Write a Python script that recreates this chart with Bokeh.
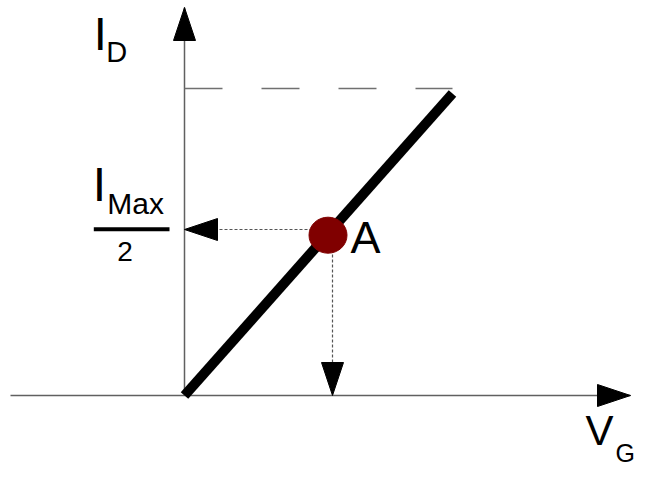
from bokeh.plotting import figure
from bokeh.models import Range1d, Label
from bokeh.embed import file_html
from bokeh.resources import INLINE

# ---- diagram data (V_G horizontal, I_D vertical; origin at threshold) ----
vg_axis = [-174, 446]          # horizontal axis extent (tip at 446)
id_axis = [0, 388]             # vertical axis extent (tip at 388)
vg_line = [0, 268]             # transfer characteristic
id_line = [0, 302]
id_max = 307                   # I_Max level (dashed)
vg_max = 268
a_vg, a_id = 143.5, 160.3      # operating point A
guide_vg = 148                 # projection of A on V_G
guide_id = 166                 # I_Max / 2 level

HEAD_LEN, HEAD_HALF = 33, 11
AXIS_COLOR = "#606060"
FONT = "Liberation Sans"

p = figure(width=635, height=471,
           x_range=Range1d(-184, 451), y_range=Range1d(-76, 395),
           x_axis_type=None, y_axis_type=None,
           output_backend="svg", toolbar_location=None, min_border=0)
p.grid.visible = False
p.outline_line_color = None
p.background_fill_color = "white"
p.border_fill_color = "white"


def head(tx, ty, dx, dy):
    # triangle with tip at (tx,ty) pointing in direction (dx,dy)
    bx, by = tx - dx * HEAD_LEN, ty - dy * HEAD_LEN
    px, py = -dy * HEAD_HALF, dx * HEAD_HALF
    p.patch([tx, bx + px, bx - px], [ty, by + py, by - py],
            fill_color="black", line_color="black", line_width=1)


# axes
p.line(vg_axis, [0, 0], line_color=AXIS_COLOR, line_width=1.5)
p.line([0, 0], id_axis, line_color=AXIS_COLOR, line_width=1.5)
head(vg_axis[1], 0, 1, 0)
head(0, id_axis[1], 0, 1)

# I_Max dashed level
p.line([0, vg_max], [id_max, id_max], line_color="#707070", line_width=1.5,
       line_dash="38 39")

# dotted guides from A
p.line([guide_vg, HEAD_LEN], [guide_id, guide_id], line_color="#555555",
       line_width=1.2, line_dash="3 2")
p.line([guide_vg, guide_vg], [guide_id, HEAD_LEN], line_color="#555555",
       line_width=1.2, line_dash="3 2")
head(0, guide_id, -1, 0)
head(guide_vg, 0, 0, -1)

# characteristic line
p.line(vg_line, id_line, line_color="black", line_width=10, line_cap="butt")

# operating point
p.ellipse(x=[a_vg], y=[a_id], width=38, height=36,
          fill_color="#800000", line_color="#800000")

# labels
def lab(x, y, t, size, align="left", font=FONT):
    p.add_layout(Label(x=x, y=y + 0.38 * size, text=t, text_font=font,
                       text_font_size=f"{size}px", text_color="black",
                       text_align=align, text_baseline="alphabetic"))

lab(-90.7, 344, "I", 47)
lab(-78.3, 332, "D", 29)

lab(-91.8, 193, "I", 48)
lab(-77.2, 181, "Max", 30)
p.line([-90.7, -15], [166.3, 166.3], line_color="black", line_width=4,
       line_cap="butt")
lab(-59.5, 133, "2", 28, align="center")

lab(166, 141, "A", 45)

lab(401, -51, "V", 42)
lab(431, -67, "G", 25)

open("out.html", "w").write(file_html(p, INLINE))
